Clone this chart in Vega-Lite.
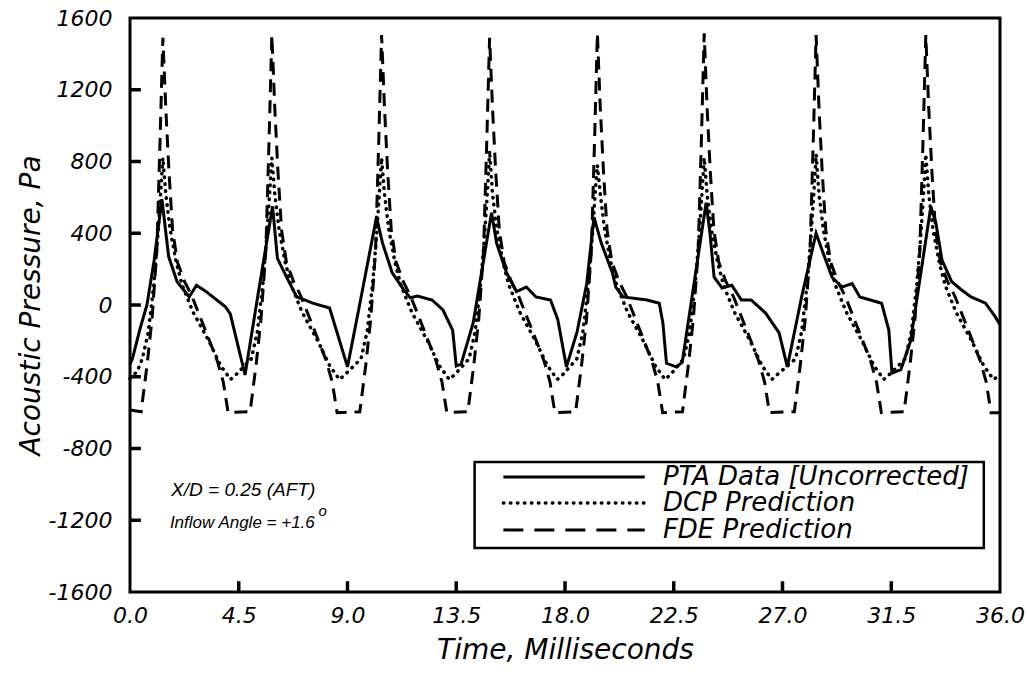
{
  "$schema": "https://vega.github.io/schema/vega-lite/v6.json",
  "width": 870,
  "height": 574,
  "autosize": {"type": "none"},
  "padding": {"left": 130, "top": 18, "right": 27, "bottom": 89},
  "background": "white",
  "config": {"view": {"stroke": "black", "strokeWidth": 3}},
  "datasets": {
    "curves": [
      {"series": "PTA", "grp": "c", "t": 0, "p": -330},
      {"series": "PTA", "grp": "c", "t": 0.1, "p": -300},
      {"series": "PTA", "grp": "c", "t": 0.4, "p": -140},
      {"series": "PTA", "grp": "c", "t": 0.7, "p": 0},
      {"series": "PTA", "grp": "c", "t": 1.0, "p": 250},
      {"series": "PTA", "grp": "c", "t": 1.32, "p": 590},
      {"series": "PTA", "grp": "c", "t": 1.6, "p": 270},
      {"series": "PTA", "grp": "c", "t": 1.95, "p": 130},
      {"series": "PTA", "grp": "c", "t": 2.45, "p": 45},
      {"series": "PTA", "grp": "c", "t": 2.75, "p": 110},
      {"series": "PTA", "grp": "c", "t": 3.1, "p": 80},
      {"series": "PTA", "grp": "c", "t": 3.95, "p": -10},
      {"series": "PTA", "grp": "c", "t": 4.15, "p": -50},
      {"series": "PTA", "grp": "c", "t": 4.76, "p": -390},
      {"series": "PTA", "grp": "c", "t": 5.3, "p": 60},
      {"series": "PTA", "grp": "c", "t": 5.9, "p": 550},
      {"series": "PTA", "grp": "c", "t": 6.1, "p": 260},
      {"series": "PTA", "grp": "c", "t": 6.5, "p": 150},
      {"series": "PTA", "grp": "c", "t": 6.9, "p": 45},
      {"series": "PTA", "grp": "c", "t": 7.2, "p": 30},
      {"series": "PTA", "grp": "c", "t": 7.56, "p": 10},
      {"series": "PTA", "grp": "c", "t": 8.26, "p": -17},
      {"series": "PTA", "grp": "c", "t": 9.0, "p": -345},
      {"series": "PTA", "grp": "c", "t": 9.5, "p": 0},
      {"series": "PTA", "grp": "c", "t": 10.2, "p": 490},
      {"series": "PTA", "grp": "c", "t": 10.45, "p": 345},
      {"series": "PTA", "grp": "c", "t": 10.85, "p": 180},
      {"series": "PTA", "grp": "c", "t": 11.3, "p": 90},
      {"series": "PTA", "grp": "c", "t": 11.6, "p": 40},
      {"series": "PTA", "grp": "c", "t": 11.9, "p": 50},
      {"series": "PTA", "grp": "c", "t": 12.5, "p": 28},
      {"series": "PTA", "grp": "c", "t": 12.95, "p": -28},
      {"series": "PTA", "grp": "c", "t": 13.35, "p": -140},
      {"series": "PTA", "grp": "c", "t": 13.5, "p": -340},
      {"series": "PTA", "grp": "c", "t": 13.7, "p": -330},
      {"series": "PTA", "grp": "c", "t": 14.2, "p": -100},
      {"series": "PTA", "grp": "c", "t": 14.96, "p": 515},
      {"series": "PTA", "grp": "c", "t": 15.17, "p": 345},
      {"series": "PTA", "grp": "c", "t": 15.58, "p": 180},
      {"series": "PTA", "grp": "c", "t": 15.99, "p": 75},
      {"series": "PTA", "grp": "c", "t": 16.4, "p": 100},
      {"series": "PTA", "grp": "c", "t": 16.8, "p": 45},
      {"series": "PTA", "grp": "c", "t": 17.4, "p": 28},
      {"series": "PTA", "grp": "c", "t": 17.7, "p": -80},
      {"series": "PTA", "grp": "c", "t": 18.06, "p": -345},
      {"series": "PTA", "grp": "c", "t": 18.5, "p": -150},
      {"series": "PTA", "grp": "c", "t": 18.9, "p": 120},
      {"series": "PTA", "grp": "c", "t": 19.2, "p": 490},
      {"series": "PTA", "grp": "c", "t": 19.5, "p": 345},
      {"series": "PTA", "grp": "c", "t": 19.96, "p": 180},
      {"series": "PTA", "grp": "c", "t": 20.1, "p": 100},
      {"series": "PTA", "grp": "c", "t": 20.4, "p": 45},
      {"series": "PTA", "grp": "c", "t": 21.4, "p": 28},
      {"series": "PTA", "grp": "c", "t": 21.9, "p": 10},
      {"series": "PTA", "grp": "c", "t": 22.05, "p": -100},
      {"series": "PTA", "grp": "c", "t": 22.2, "p": -325},
      {"series": "PTA", "grp": "c", "t": 22.6, "p": -345},
      {"series": "PTA", "grp": "c", "t": 22.85, "p": -320},
      {"series": "PTA", "grp": "c", "t": 23.84, "p": 570},
      {"series": "PTA", "grp": "c", "t": 24.0, "p": 400},
      {"series": "PTA", "grp": "c", "t": 24.17, "p": 155},
      {"series": "PTA", "grp": "c", "t": 24.5, "p": 95},
      {"series": "PTA", "grp": "c", "t": 24.9, "p": 110},
      {"series": "PTA", "grp": "c", "t": 25.3, "p": 28},
      {"series": "PTA", "grp": "c", "t": 25.7, "p": 28},
      {"series": "PTA", "grp": "c", "t": 26.3, "p": -45},
      {"series": "PTA", "grp": "c", "t": 26.86, "p": -155},
      {"series": "PTA", "grp": "c", "t": 27.2, "p": -345},
      {"series": "PTA", "grp": "c", "t": 27.8, "p": 50},
      {"series": "PTA", "grp": "c", "t": 28.39, "p": 400},
      {"series": "PTA", "grp": "c", "t": 28.64, "p": 305},
      {"series": "PTA", "grp": "c", "t": 29.05, "p": 155},
      {"series": "PTA", "grp": "c", "t": 29.46, "p": 100},
      {"series": "PTA", "grp": "c", "t": 29.88, "p": 120},
      {"series": "PTA", "grp": "c", "t": 30.2, "p": 45},
      {"series": "PTA", "grp": "c", "t": 31.1, "p": 10},
      {"series": "PTA", "grp": "c", "t": 31.4, "p": -140},
      {"series": "PTA", "grp": "c", "t": 31.53, "p": -380},
      {"series": "PTA", "grp": "c", "t": 31.9, "p": -360},
      {"series": "PTA", "grp": "c", "t": 32.3, "p": -200},
      {"series": "PTA", "grp": "c", "t": 33.14, "p": 550},
      {"series": "PTA", "grp": "c", "t": 33.35, "p": 455},
      {"series": "PTA", "grp": "c", "t": 33.6, "p": 250},
      {"series": "PTA", "grp": "c", "t": 34.0, "p": 130},
      {"series": "PTA", "grp": "c", "t": 34.4, "p": 85},
      {"series": "PTA", "grp": "c", "t": 34.8, "p": 45},
      {"series": "PTA", "grp": "c", "t": 35.4, "p": 10},
      {"series": "PTA", "grp": "c", "t": 35.8, "p": -65},
      {"series": "PTA", "grp": "c", "t": 36.0, "p": -110},

      {"series": "DCP", "grp": "c", "t": 0, "p": -410},
      {"series": "DCP", "grp": "c", "t": 0.3, "p": -370},
      {"series": "DCP", "grp": "c", "t": 0.51, "p": -300},
      {"series": "DCP", "grp": "c", "t": 0.76, "p": -150},
      {"series": "DCP", "grp": "c", "t": 0.99, "p": 120},
      {"series": "DCP", "grp": "c", "t": 1.16, "p": 400},
      {"series": "DCP", "grp": "c", "t": 1.28, "p": 650},
      {"series": "DCP", "grp": "c", "t": 1.36, "p": 820},
      {"series": "DCP", "grp": "c", "t": 1.48, "p": 620},
      {"series": "DCP", "grp": "c", "t": 1.66, "p": 420},
      {"series": "DCP", "grp": "c", "t": 1.91, "p": 240},
      {"series": "DCP", "grp": "c", "t": 2.16, "p": 110},
      {"series": "DCP", "grp": "c", "t": 2.61, "p": -40},
      {"series": "DCP", "grp": "c", "t": 3.26, "p": -200},
      {"series": "DCP", "grp": "c", "t": 3.76, "p": -340},
      {"series": "DCP", "grp": "c", "t": 4.16, "p": -415},
      {"series": "DCP", "grp": "c", "t": 4.41, "p": -385},
      {"series": "DCP", "grp": "c", "t": 5.02, "p": -300},
      {"series": "DCP", "grp": "c", "t": 5.27, "p": -150},
      {"series": "DCP", "grp": "c", "t": 5.5, "p": 120},
      {"series": "DCP", "grp": "c", "t": 5.67, "p": 400},
      {"series": "DCP", "grp": "c", "t": 5.79, "p": 650},
      {"series": "DCP", "grp": "c", "t": 5.87, "p": 820},
      {"series": "DCP", "grp": "c", "t": 5.99, "p": 620},
      {"series": "DCP", "grp": "c", "t": 6.17, "p": 420},
      {"series": "DCP", "grp": "c", "t": 6.42, "p": 240},
      {"series": "DCP", "grp": "c", "t": 6.67, "p": 110},
      {"series": "DCP", "grp": "c", "t": 7.12, "p": -40},
      {"series": "DCP", "grp": "c", "t": 7.77, "p": -200},
      {"series": "DCP", "grp": "c", "t": 8.27, "p": -340},
      {"series": "DCP", "grp": "c", "t": 8.67, "p": -415},
      {"series": "DCP", "grp": "c", "t": 8.92, "p": -385},
      {"series": "DCP", "grp": "c", "t": 9.56, "p": -300},
      {"series": "DCP", "grp": "c", "t": 9.81, "p": -150},
      {"series": "DCP", "grp": "c", "t": 10.04, "p": 120},
      {"series": "DCP", "grp": "c", "t": 10.21, "p": 400},
      {"series": "DCP", "grp": "c", "t": 10.33, "p": 650},
      {"series": "DCP", "grp": "c", "t": 10.41, "p": 820},
      {"series": "DCP", "grp": "c", "t": 10.53, "p": 620},
      {"series": "DCP", "grp": "c", "t": 10.71, "p": 420},
      {"series": "DCP", "grp": "c", "t": 10.96, "p": 240},
      {"series": "DCP", "grp": "c", "t": 11.21, "p": 110},
      {"series": "DCP", "grp": "c", "t": 11.66, "p": -40},
      {"series": "DCP", "grp": "c", "t": 12.31, "p": -200},
      {"series": "DCP", "grp": "c", "t": 12.81, "p": -340},
      {"series": "DCP", "grp": "c", "t": 13.21, "p": -415},
      {"series": "DCP", "grp": "c", "t": 13.46, "p": -385},
      {"series": "DCP", "grp": "c", "t": 14.03, "p": -300},
      {"series": "DCP", "grp": "c", "t": 14.28, "p": -150},
      {"series": "DCP", "grp": "c", "t": 14.51, "p": 120},
      {"series": "DCP", "grp": "c", "t": 14.68, "p": 400},
      {"series": "DCP", "grp": "c", "t": 14.8, "p": 650},
      {"series": "DCP", "grp": "c", "t": 14.88, "p": 860},
      {"series": "DCP", "grp": "c", "t": 15.0, "p": 620},
      {"series": "DCP", "grp": "c", "t": 15.18, "p": 420},
      {"series": "DCP", "grp": "c", "t": 15.43, "p": 240},
      {"series": "DCP", "grp": "c", "t": 15.68, "p": 110},
      {"series": "DCP", "grp": "c", "t": 16.13, "p": -40},
      {"series": "DCP", "grp": "c", "t": 16.78, "p": -200},
      {"series": "DCP", "grp": "c", "t": 17.28, "p": -340},
      {"series": "DCP", "grp": "c", "t": 17.68, "p": -415},
      {"series": "DCP", "grp": "c", "t": 17.93, "p": -385},
      {"series": "DCP", "grp": "c", "t": 18.49, "p": -300},
      {"series": "DCP", "grp": "c", "t": 18.74, "p": -150},
      {"series": "DCP", "grp": "c", "t": 18.97, "p": 120},
      {"series": "DCP", "grp": "c", "t": 19.14, "p": 400},
      {"series": "DCP", "grp": "c", "t": 19.26, "p": 650},
      {"series": "DCP", "grp": "c", "t": 19.34, "p": 780},
      {"series": "DCP", "grp": "c", "t": 19.46, "p": 620},
      {"series": "DCP", "grp": "c", "t": 19.64, "p": 420},
      {"series": "DCP", "grp": "c", "t": 19.89, "p": 240},
      {"series": "DCP", "grp": "c", "t": 20.14, "p": 110},
      {"series": "DCP", "grp": "c", "t": 20.59, "p": -40},
      {"series": "DCP", "grp": "c", "t": 21.24, "p": -200},
      {"series": "DCP", "grp": "c", "t": 21.74, "p": -340},
      {"series": "DCP", "grp": "c", "t": 22.14, "p": -415},
      {"series": "DCP", "grp": "c", "t": 22.39, "p": -385},
      {"series": "DCP", "grp": "c", "t": 22.91, "p": -300},
      {"series": "DCP", "grp": "c", "t": 23.16, "p": -150},
      {"series": "DCP", "grp": "c", "t": 23.39, "p": 120},
      {"series": "DCP", "grp": "c", "t": 23.56, "p": 400},
      {"series": "DCP", "grp": "c", "t": 23.68, "p": 650},
      {"series": "DCP", "grp": "c", "t": 23.76, "p": 820},
      {"series": "DCP", "grp": "c", "t": 23.88, "p": 620},
      {"series": "DCP", "grp": "c", "t": 24.06, "p": 420},
      {"series": "DCP", "grp": "c", "t": 24.31, "p": 240},
      {"series": "DCP", "grp": "c", "t": 24.56, "p": 110},
      {"series": "DCP", "grp": "c", "t": 25.01, "p": -40},
      {"series": "DCP", "grp": "c", "t": 25.66, "p": -200},
      {"series": "DCP", "grp": "c", "t": 26.16, "p": -340},
      {"series": "DCP", "grp": "c", "t": 26.56, "p": -415},
      {"series": "DCP", "grp": "c", "t": 26.81, "p": -385},
      {"series": "DCP", "grp": "c", "t": 27.54, "p": -300},
      {"series": "DCP", "grp": "c", "t": 27.79, "p": -150},
      {"series": "DCP", "grp": "c", "t": 28.02, "p": 120},
      {"series": "DCP", "grp": "c", "t": 28.19, "p": 400},
      {"series": "DCP", "grp": "c", "t": 28.31, "p": 650},
      {"series": "DCP", "grp": "c", "t": 28.39, "p": 840},
      {"series": "DCP", "grp": "c", "t": 28.51, "p": 620},
      {"series": "DCP", "grp": "c", "t": 28.69, "p": 420},
      {"series": "DCP", "grp": "c", "t": 28.94, "p": 240},
      {"series": "DCP", "grp": "c", "t": 29.19, "p": 110},
      {"series": "DCP", "grp": "c", "t": 29.64, "p": -40},
      {"series": "DCP", "grp": "c", "t": 30.29, "p": -200},
      {"series": "DCP", "grp": "c", "t": 30.79, "p": -340},
      {"series": "DCP", "grp": "c", "t": 31.19, "p": -415},
      {"series": "DCP", "grp": "c", "t": 31.44, "p": -385},
      {"series": "DCP", "grp": "c", "t": 32.08, "p": -300},
      {"series": "DCP", "grp": "c", "t": 32.33, "p": -150},
      {"series": "DCP", "grp": "c", "t": 32.56, "p": 120},
      {"series": "DCP", "grp": "c", "t": 32.73, "p": 400},
      {"series": "DCP", "grp": "c", "t": 32.85, "p": 650},
      {"series": "DCP", "grp": "c", "t": 32.93, "p": 840},
      {"series": "DCP", "grp": "c", "t": 33.05, "p": 620},
      {"series": "DCP", "grp": "c", "t": 33.23, "p": 420},
      {"series": "DCP", "grp": "c", "t": 33.48, "p": 240},
      {"series": "DCP", "grp": "c", "t": 33.73, "p": 110},
      {"series": "DCP", "grp": "c", "t": 34.18, "p": -40},
      {"series": "DCP", "grp": "c", "t": 34.83, "p": -200},
      {"series": "DCP", "grp": "c", "t": 35.33, "p": -340},
      {"series": "DCP", "grp": "c", "t": 35.73, "p": -415},
      {"series": "DCP", "grp": "c", "t": 36.0, "p": -390},

      {"series": "FDE", "grp": "c", "t": 0, "p": -585},
      {"series": "FDE", "grp": "c", "t": 0.46, "p": -595},
      {"series": "FDE", "grp": "c", "t": 0.71, "p": -330},
      {"series": "FDE", "grp": "c", "t": 0.91, "p": -80},
      {"series": "FDE", "grp": "c", "t": 1.11, "p": 300},
      {"series": "FDE", "grp": "c", "t": 1.24, "p": 900},
      {"series": "FDE", "grp": "c", "t": 1.36, "p": 1490},
      {"series": "FDE", "grp": "c", "t": 1.48, "p": 1100},
      {"series": "FDE", "grp": "c", "t": 1.61, "p": 750},
      {"series": "FDE", "grp": "c", "t": 1.76, "p": 420},
      {"series": "FDE", "grp": "c", "t": 1.96, "p": 240},
      {"series": "FDE", "grp": "c", "t": 2.26, "p": 130},
      {"series": "FDE", "grp": "c", "t": 2.56, "p": 50},
      {"series": "FDE", "grp": "c", "t": 3.06, "p": -120},
      {"series": "FDE", "grp": "c", "t": 3.61, "p": -310},
      {"series": "FDE", "grp": "c", "t": 3.86, "p": -430},
      {"series": "FDE", "grp": "c", "t": 4.06, "p": -600},
      {"series": "FDE", "grp": "c", "t": 4.97, "p": -595},
      {"series": "FDE", "grp": "c", "t": 5.22, "p": -330},
      {"series": "FDE", "grp": "c", "t": 5.42, "p": -80},
      {"series": "FDE", "grp": "c", "t": 5.62, "p": 300},
      {"series": "FDE", "grp": "c", "t": 5.75, "p": 900},
      {"series": "FDE", "grp": "c", "t": 5.87, "p": 1505},
      {"series": "FDE", "grp": "c", "t": 5.99, "p": 1100},
      {"series": "FDE", "grp": "c", "t": 6.12, "p": 750},
      {"series": "FDE", "grp": "c", "t": 6.27, "p": 420},
      {"series": "FDE", "grp": "c", "t": 6.47, "p": 240},
      {"series": "FDE", "grp": "c", "t": 6.77, "p": 130},
      {"series": "FDE", "grp": "c", "t": 7.07, "p": 50},
      {"series": "FDE", "grp": "c", "t": 7.57, "p": -120},
      {"series": "FDE", "grp": "c", "t": 8.12, "p": -310},
      {"series": "FDE", "grp": "c", "t": 8.37, "p": -430},
      {"series": "FDE", "grp": "c", "t": 8.57, "p": -600},
      {"series": "FDE", "grp": "c", "t": 9.51, "p": -595},
      {"series": "FDE", "grp": "c", "t": 9.76, "p": -330},
      {"series": "FDE", "grp": "c", "t": 9.96, "p": -80},
      {"series": "FDE", "grp": "c", "t": 10.16, "p": 300},
      {"series": "FDE", "grp": "c", "t": 10.29, "p": 900},
      {"series": "FDE", "grp": "c", "t": 10.41, "p": 1505},
      {"series": "FDE", "grp": "c", "t": 10.53, "p": 1100},
      {"series": "FDE", "grp": "c", "t": 10.66, "p": 750},
      {"series": "FDE", "grp": "c", "t": 10.81, "p": 420},
      {"series": "FDE", "grp": "c", "t": 11.01, "p": 240},
      {"series": "FDE", "grp": "c", "t": 11.31, "p": 130},
      {"series": "FDE", "grp": "c", "t": 11.61, "p": 50},
      {"series": "FDE", "grp": "c", "t": 12.11, "p": -120},
      {"series": "FDE", "grp": "c", "t": 12.66, "p": -310},
      {"series": "FDE", "grp": "c", "t": 12.91, "p": -430},
      {"series": "FDE", "grp": "c", "t": 13.11, "p": -600},
      {"series": "FDE", "grp": "c", "t": 13.98, "p": -595},
      {"series": "FDE", "grp": "c", "t": 14.23, "p": -330},
      {"series": "FDE", "grp": "c", "t": 14.43, "p": -80},
      {"series": "FDE", "grp": "c", "t": 14.63, "p": 300},
      {"series": "FDE", "grp": "c", "t": 14.76, "p": 900},
      {"series": "FDE", "grp": "c", "t": 14.88, "p": 1490},
      {"series": "FDE", "grp": "c", "t": 15.0, "p": 1100},
      {"series": "FDE", "grp": "c", "t": 15.13, "p": 750},
      {"series": "FDE", "grp": "c", "t": 15.28, "p": 420},
      {"series": "FDE", "grp": "c", "t": 15.48, "p": 240},
      {"series": "FDE", "grp": "c", "t": 15.78, "p": 130},
      {"series": "FDE", "grp": "c", "t": 16.08, "p": 50},
      {"series": "FDE", "grp": "c", "t": 16.58, "p": -120},
      {"series": "FDE", "grp": "c", "t": 17.13, "p": -310},
      {"series": "FDE", "grp": "c", "t": 17.38, "p": -430},
      {"series": "FDE", "grp": "c", "t": 17.58, "p": -600},
      {"series": "FDE", "grp": "c", "t": 18.44, "p": -595},
      {"series": "FDE", "grp": "c", "t": 18.69, "p": -330},
      {"series": "FDE", "grp": "c", "t": 18.89, "p": -80},
      {"series": "FDE", "grp": "c", "t": 19.09, "p": 300},
      {"series": "FDE", "grp": "c", "t": 19.22, "p": 900},
      {"series": "FDE", "grp": "c", "t": 19.34, "p": 1515},
      {"series": "FDE", "grp": "c", "t": 19.46, "p": 1100},
      {"series": "FDE", "grp": "c", "t": 19.59, "p": 750},
      {"series": "FDE", "grp": "c", "t": 19.74, "p": 420},
      {"series": "FDE", "grp": "c", "t": 19.94, "p": 240},
      {"series": "FDE", "grp": "c", "t": 20.24, "p": 130},
      {"series": "FDE", "grp": "c", "t": 20.54, "p": 50},
      {"series": "FDE", "grp": "c", "t": 21.04, "p": -120},
      {"series": "FDE", "grp": "c", "t": 21.59, "p": -310},
      {"series": "FDE", "grp": "c", "t": 21.84, "p": -430},
      {"series": "FDE", "grp": "c", "t": 22.04, "p": -600},
      {"series": "FDE", "grp": "c", "t": 22.86, "p": -595},
      {"series": "FDE", "grp": "c", "t": 23.11, "p": -330},
      {"series": "FDE", "grp": "c", "t": 23.31, "p": -80},
      {"series": "FDE", "grp": "c", "t": 23.51, "p": 300},
      {"series": "FDE", "grp": "c", "t": 23.64, "p": 900},
      {"series": "FDE", "grp": "c", "t": 23.76, "p": 1515},
      {"series": "FDE", "grp": "c", "t": 23.88, "p": 1100},
      {"series": "FDE", "grp": "c", "t": 24.01, "p": 750},
      {"series": "FDE", "grp": "c", "t": 24.16, "p": 420},
      {"series": "FDE", "grp": "c", "t": 24.36, "p": 240},
      {"series": "FDE", "grp": "c", "t": 24.66, "p": 130},
      {"series": "FDE", "grp": "c", "t": 24.96, "p": 50},
      {"series": "FDE", "grp": "c", "t": 25.46, "p": -120},
      {"series": "FDE", "grp": "c", "t": 26.01, "p": -310},
      {"series": "FDE", "grp": "c", "t": 26.26, "p": -430},
      {"series": "FDE", "grp": "c", "t": 26.46, "p": -600},
      {"series": "FDE", "grp": "c", "t": 27.49, "p": -595},
      {"series": "FDE", "grp": "c", "t": 27.74, "p": -330},
      {"series": "FDE", "grp": "c", "t": 27.94, "p": -80},
      {"series": "FDE", "grp": "c", "t": 28.14, "p": 300},
      {"series": "FDE", "grp": "c", "t": 28.27, "p": 900},
      {"series": "FDE", "grp": "c", "t": 28.39, "p": 1505},
      {"series": "FDE", "grp": "c", "t": 28.51, "p": 1100},
      {"series": "FDE", "grp": "c", "t": 28.64, "p": 750},
      {"series": "FDE", "grp": "c", "t": 28.79, "p": 420},
      {"series": "FDE", "grp": "c", "t": 28.99, "p": 240},
      {"series": "FDE", "grp": "c", "t": 29.29, "p": 130},
      {"series": "FDE", "grp": "c", "t": 29.59, "p": 50},
      {"series": "FDE", "grp": "c", "t": 30.09, "p": -120},
      {"series": "FDE", "grp": "c", "t": 30.64, "p": -310},
      {"series": "FDE", "grp": "c", "t": 30.89, "p": -430},
      {"series": "FDE", "grp": "c", "t": 31.09, "p": -600},
      {"series": "FDE", "grp": "c", "t": 32.03, "p": -595},
      {"series": "FDE", "grp": "c", "t": 32.28, "p": -330},
      {"series": "FDE", "grp": "c", "t": 32.48, "p": -80},
      {"series": "FDE", "grp": "c", "t": 32.68, "p": 300},
      {"series": "FDE", "grp": "c", "t": 32.81, "p": 900},
      {"series": "FDE", "grp": "c", "t": 32.93, "p": 1505},
      {"series": "FDE", "grp": "c", "t": 33.05, "p": 1100},
      {"series": "FDE", "grp": "c", "t": 33.18, "p": 750},
      {"series": "FDE", "grp": "c", "t": 33.33, "p": 420},
      {"series": "FDE", "grp": "c", "t": 33.53, "p": 240},
      {"series": "FDE", "grp": "c", "t": 33.83, "p": 130},
      {"series": "FDE", "grp": "c", "t": 34.13, "p": 50},
      {"series": "FDE", "grp": "c", "t": 34.63, "p": -120},
      {"series": "FDE", "grp": "c", "t": 35.18, "p": -310},
      {"series": "FDE", "grp": "c", "t": 35.43, "p": -430},
      {"series": "FDE", "grp": "c", "t": 35.63, "p": -600},
      {"series": "FDE", "grp": "c", "t": 36.0, "p": -600},

      {"series": "PTA", "grp": "legend", "t": 15.45, "p": -959},
      {"series": "PTA", "grp": "legend", "t": 21.3, "p": -959},
      {"series": "DCP", "grp": "legend", "t": 15.45, "p": -1104},
      {"series": "DCP", "grp": "legend", "t": 21.3, "p": -1104},
      {"series": "FDE", "grp": "legend", "t": 15.45, "p": -1254},
      {"series": "FDE", "grp": "legend", "t": 21.3, "p": -1254}
    ],
    "yticks": [
      {"t": 0, "t2": 0.45, "p": -1200},
      {"t": 0, "t2": 0.45, "p": -800},
      {"t": 0, "t2": 0.45, "p": -400},
      {"t": 0, "t2": 0.45, "p": 0},
      {"t": 0, "t2": 0.45, "p": 400},
      {"t": 0, "t2": 0.45, "p": 800},
      {"t": 0, "t2": 0.45, "p": 1200}
    ],
    "xticks": [
      {"t": 4.5, "p": -1600, "p2": -1540},
      {"t": 9, "p": -1600, "p2": -1540},
      {"t": 13.5, "p": -1600, "p2": -1540},
      {"t": 18, "p": -1600, "p2": -1540},
      {"t": 22.5, "p": -1600, "p2": -1540},
      {"t": 27, "p": -1600, "p2": -1540},
      {"t": 31.5, "p": -1600, "p2": -1540}
    ],
    "legendbox": [{"t": 14.26, "t2": 35.33, "p": -875, "p2": -1355}],
    "legendtext": [
      {"label": "PTA Data [Uncorrected]", "t": 22.05, "p": -959},
      {"label": "DCP Prediction", "t": 22.05, "p": -1104},
      {"label": "FDE Prediction", "t": 22.05, "p": -1254}
    ],
    "note1": [{"label": "X/D = 0.25 (AFT)", "t": 1.7, "p": -1031}],
    "note2": [{"label": "Inflow Angle = +1.6", "t": 1.65, "p": -1215}],
    "sup": [{"label": "o", "t": 7.8, "p": -1148}]
  },
  "encoding": {
    "x": {
      "field": "t", "type": "quantitative",
      "scale": {"domain": [0, 36], "nice": false, "zero": false},
      "axis": {
        "values": [0, 4.5, 9, 13.5, 18, 22.5, 27, 31.5, 36],
        "labelExpr": "format(datum.value, '.1f')",
        "title": "Time, Milliseconds",
        "grid": false, "domain": false, "ticks": false,
        "labelFont": "DejaVu Sans", "labelFontStyle": "italic", "labelFontSize": 22, "labelColor": "black",
        "labelPadding": 13, "labelFlush": false, "labelOverlap": false,
        "titleFont": "DejaVu Sans", "titleFontStyle": "italic", "titleFontWeight": "normal", "titleFontSize": 28, "titleColor": "black",
        "titlePadding": 10
      }
    },
    "y": {
      "field": "p", "type": "quantitative",
      "scale": {"domain": [-1600, 1600], "nice": false, "zero": false},
      "axis": {
        "values": [-1600, -1200, -800, -400, 0, 400, 800, 1200, 1600],
        "labelExpr": "datum.value < 0 ? '-' + (-datum.value) : '' + datum.value",
        "title": "Acoustic Pressure, Pa",
        "grid": false, "domain": false, "ticks": false,
        "labelFont": "DejaVu Sans", "labelFontStyle": "italic", "labelFontSize": 22, "labelColor": "black",
        "labelPadding": 18, "labelOverlap": false, "labelFlush": false,
        "titleFont": "DejaVu Sans", "titleFontStyle": "italic", "titleFontWeight": "normal", "titleFontSize": 28, "titleColor": "black",
        "titlePadding": 3
      }
    }
  },
  "layer": [
    {
      "data": {"name": "legendbox"},
      "mark": {"type": "rect", "fill": "white", "stroke": "black", "strokeWidth": 2.5},
      "encoding": {"x2": {"field": "t2"}, "y2": {"field": "p2"}}
    },
    {
      "data": {"name": "yticks"},
      "mark": {"type": "rule", "color": "black", "strokeWidth": 3.5},
      "encoding": {"x2": {"field": "t2"}}
    },
    {
      "data": {"name": "xticks"},
      "mark": {"type": "rule", "color": "black", "strokeWidth": 3.5},
      "encoding": {"y2": {"field": "p2"}}
    },
    {
      "data": {"name": "curves"},
      "transform": [{"filter": "datum.series === 'PTA'"}],
      "mark": {"type": "line", "color": "black", "strokeWidth": 3},
      "encoding": {"detail": {"field": "grp"}}
    },
    {
      "data": {"name": "curves"},
      "transform": [{"filter": "datum.series === 'DCP'"}],
      "mark": {"type": "line", "color": "black", "strokeWidth": 3.5, "strokeDash": [0.5, 6.5], "strokeCap": "round"},
      "encoding": {"detail": {"field": "grp"}}
    },
    {
      "data": {"name": "curves"},
      "transform": [{"filter": "datum.series === 'FDE' && datum.grp === 'c'"}],
      "mark": {"type": "line", "color": "black", "strokeWidth": 3, "strokeDash": [13, 8]},
      "encoding": {}
    },
    {
      "data": {"name": "curves"},
      "transform": [{"filter": "datum.series === 'FDE' && datum.grp === 'legend'"}],
      "mark": {"type": "line", "color": "black", "strokeWidth": 3, "strokeDash": [20, 11]},
      "encoding": {}
    },
    {
      "data": {"name": "legendtext"},
      "mark": {"type": "text", "align": "left", "baseline": "middle", "font": "DejaVu Sans", "fontStyle": "italic", "fontSize": 26, "color": "black"},
      "encoding": {"text": {"field": "label"}}
    },
    {
      "data": {"name": "note1"},
      "mark": {"type": "text", "align": "left", "baseline": "middle", "font": "Liberation Sans", "fontStyle": "italic", "fontSize": 19, "color": "black"},
      "encoding": {"text": {"field": "label"}}
    },
    {
      "data": {"name": "note2"},
      "mark": {"type": "text", "align": "left", "baseline": "middle", "font": "Liberation Sans", "fontStyle": "italic", "fontSize": 17, "color": "black"},
      "encoding": {"text": {"field": "label"}}
    },
    {
      "data": {"name": "sup"},
      "mark": {"type": "text", "align": "left", "baseline": "middle", "font": "Liberation Sans", "fontStyle": "italic", "fontSize": 15, "color": "black"},
      "encoding": {"text": {"field": "label"}}
    }
  ]
}
